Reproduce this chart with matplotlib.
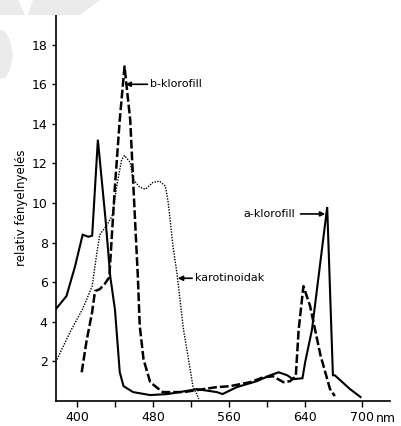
import matplotlib
matplotlib.use("Agg")
import matplotlib.pyplot as plt
from matplotlib.patches import Polygon

# ---- data (wavelength in nm, relative absorption) ----
a_nm = [378, 389, 398, 400, 406, 412, 416, 422, 430, 435, 440, 445, 449, 459, 477,
        495, 508, 526, 547, 553, 568, 589, 603, 612, 621, 627, 637, 640, 647, 663,
        669, 671, 687, 698]
a_val = [4.65, 5.3, 6.8, 7.2, 8.4, 8.3, 8.35, 13.2, 9.2, 6.3, 4.6, 1.45, 0.75, 0.45, 0.3,
         0.35, 0.45, 0.6, 0.45, 0.35, 0.7, 1.0, 1.3, 1.45, 1.3, 1.1, 1.15, 2.0, 3.6, 9.8,
         1.3, 1.3, 0.6, 0.2]

b_nm = [405, 410, 416, 419, 424, 429, 434, 440, 445, 450, 456, 461, 464, 466, 470,
        477, 490, 512, 547, 561, 582, 596, 606, 617, 624, 630, 633, 638, 645, 656,
        666, 671]
b_val = [1.45, 3.0, 4.5, 5.55, 5.65, 5.9, 6.25, 10.9, 14.2, 16.9, 14.2, 9.2, 6.3, 3.8, 2.1,
         0.95, 0.45, 0.45, 0.7, 0.75, 0.95, 1.2, 1.25, 0.95, 1.0, 1.25, 3.6, 5.8, 4.8, 2.3,
         0.6, 0.25]

k_nm = [379, 393, 406, 416, 421, 424, 431, 437, 442, 447, 450, 456, 459, 466, 472,
        480, 487, 493, 496, 501, 505, 512, 519, 522, 526, 528]
k_val = [2.1, 3.5, 4.65, 5.8, 7.5, 8.4, 8.85, 9.35, 10.9, 12.2, 12.4, 12.05, 11.2, 10.8, 10.7,
         11.05, 11.1, 10.85, 10.0, 7.8, 6.5, 3.6, 1.6, 0.7, 0.35, 0.1]

x_ticks = [400, 480, 560, 640, 700]
x_tick_labels = ["400", "480", "560", "640", "700"]
x_minor = [440, 520, 600]
y_ticks = [2, 4, 6, 8, 10, 12, 14, 16, 18]
y_tick_labels = ["2", "4", "6", "8", "10", "12", "14", "16", "18"]

fig = plt.figure(figsize=(4.02, 4.26), dpi=100)

# light grey watermark shapes (figure pixel coords, y from top)
W, H = 402, 426
def fpoly(pts, **kw):
    return Polygon([(x / W, 1 - y / H) for x, y in pts], closed=True,
                   transform=fig.transFigure, **kw)
wm = "#ebebeb"
fig.patches.append(fpoly([(0, 0), (18, 0), (25, 15), (0, 15)], color=wm, lw=0, zorder=0))
fig.patches.append(fpoly([(33, 0), (100, 0), (80, 15), (28, 15)], color=wm, lw=0, zorder=0))
fig.patches.append(fpoly([(0, 30), (5, 31), (10, 40), (13, 55), (10, 70), (5, 78), (0, 79)],
                         color=wm, lw=0, zorder=0))

ax = fig.add_axes([56 / W, 1 - 401 / H, (390 - 56) / W, (401 - 15) / H])
ax.patch.set_alpha(0)

ax.plot(a_nm, a_val, color="black", lw=1.5, solid_joinstyle="miter")
ax.plot(b_nm, b_val, color="black", lw=1.8, linestyle=(0, (3.5, 1.2)))
ax.plot(k_nm, k_val, color="black", lw=1.0, linestyle=(0, (1, 1)))

ax.set_xlim(378, 729)
ax.set_ylim(0, 19.5)

for s in ["top", "right"]:
    ax.spines[s].set_visible(False)
for s in ["left", "bottom"]:
    ax.spines[s].set_linewidth(1.2)

ax.set_xticks(x_ticks)
ax.set_xticklabels(x_tick_labels, fontsize=9)
ax.set_xticks(x_minor, minor=True)
ax.set_yticks(y_ticks)
ax.set_yticklabels(y_tick_labels, fontsize=9)
ax.tick_params(axis="x", which="both", direction="out", length=4, width=1, pad=3)
ax.tick_params(axis="y", direction="out", length=3, width=1, pad=3)
ax.text(714, -0.56, "nm", fontsize=9, ha="left", va="top")

ax.set_ylabel("relativ fényelnyelés", fontsize=8.5, labelpad=3)

arrow = dict(arrowstyle="-|>", lw=1.2, color="black", mutation_scale=7,
             shrinkA=0, shrinkB=0)
ax.annotate("b-klorofill", xy=(451, 16.0), xytext=(477, 16.0), fontsize=8,
            va="center", ha="left", arrowprops=arrow)
ax.annotate("karotinoidak", xy=(506, 6.2), xytext=(524, 6.2), fontsize=8,
            va="center", ha="left", arrowprops=arrow)
ax.annotate("", xy=(661, 9.45), xytext=(635, 9.45), arrowprops=arrow)
ax.text(629, 9.45, "a-klorofill", fontsize=8, va="center", ha="right")

fig.savefig("out.png", dpi=100)
